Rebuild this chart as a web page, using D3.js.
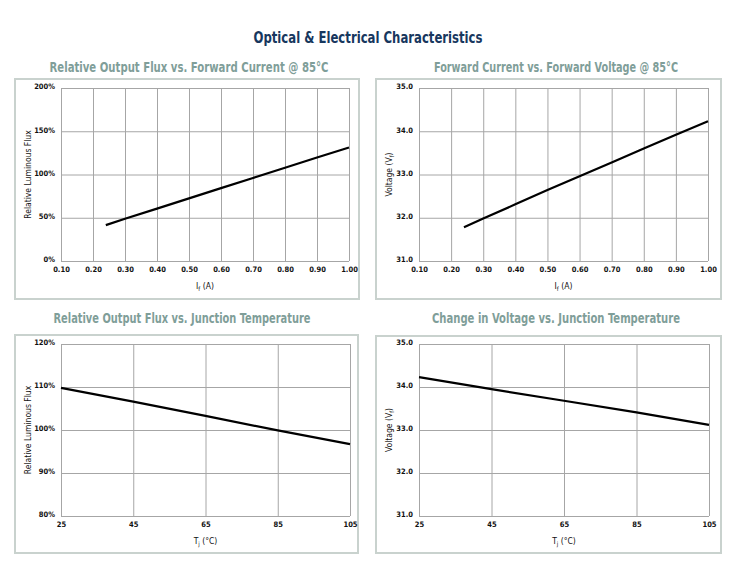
<!DOCTYPE html>
<meta charset="utf-8">
<style>
    body { margin: 0; background: white; }
    svg { display: block; background: white; }
    text { font-family: "DejaVu Sans Condensed", "Liberation Sans Narrow", sans-serif; }
    .grid line { stroke: #a6a6a6; stroke-width: 1; }
    .tick text { font-size: 7.5px; font-weight: bold; fill: #111; }
    .frame { fill: none; stroke: #c9d2ce; stroke-width: 2; }
    .ptitle { font-size: 13.5px; font-weight: bold; fill: #7f9e99; }
    .atitle { font-size: 8.5px; fill: #111; }
    .curve { fill: none; stroke: black; stroke-width: 2.2; }
</style>
<svg width="733" height="564"></svg>
<script src="https://d3js.org/d3.v7.min.js"></script>
<script>
    // chart 1: relative flux vs forward current
    var fluxCurrentX = [0.24, 0.30, 0.40, 0.50, 0.60, 0.70, 0.80, 0.90, 1.00];
    var fluxCurrentY = [41.5, 48.8, 60.5, 72.4, 84.3, 96.0, 107.8, 119.6, 131.3];
    // chart 2: forward voltage vs forward current
    var voltCurrentX = [0.24, 0.30, 0.40, 0.50, 0.60, 0.70, 0.80, 0.90, 1.00];
    var voltCurrentY = [31.78, 31.98, 32.31, 32.64, 32.96, 33.28, 33.60, 33.92, 34.23];
    // chart 3: relative flux vs junction temp
    var fluxTempX = [25, 45, 65, 85, 105];
    var fluxTempY = [109.8, 106.6, 103.3, 99.9, 96.7];
    // chart 4: voltage vs junction temp
    var voltTempX = [25, 45, 65, 85, 105];
    var voltTempY = [34.23, 33.95, 33.68, 33.41, 33.12];

    var currentTicks = [0.1, 0.2, 0.3, 0.4, 0.5, 0.6, 0.7, 0.8, 0.9, 1.0];
    var tempTicks = [25, 45, 65, 85, 105];
    var flux200Ticks = [0, 50, 100, 150, 200];
    var flux120Ticks = [80, 90, 100, 110, 120];
    var voltTicks = [31, 32, 33, 34, 35];

    var svg = d3.select("svg");

    svg.append("text")
        .attr("x", 368).attr("y", 43)
        .attr("text-anchor", "middle")
        .attr("textLength", 229).attr("lengthAdjust", "spacingAndGlyphs")
        .style("font-size", "16.5px").style("font-weight", "bold").style("fill", "#17375e")
        .text("Optical & Electrical Characteristics");

    var panels = [
        {title: "Relative Output Flux vs. Forward Current @ 85°C", tx: 189, ty: 72, tw: 279,
         frame: [15, 79, 344, 220], plot: [61, 88, 349, 261],
         xs: fluxCurrentX, ys: fluxCurrentY, xd: [0.1, 1.0], yd: [0, 200],
         xt: currentTicks, yt: flux200Ticks, xf: d3.format(".2f"), yf: function (d) { return d + "%"; },
         ylab: "Relative Luminous Flux", xlab: ["I", "f", " (A)"]},
        {title: "Forward Current vs. Forward Voltage @ 85°C", tx: 556, ty: 72, tw: 244,
         frame: [376, 79, 345, 220], plot: [419, 88, 708, 261],
         xs: voltCurrentX, ys: voltCurrentY, xd: [0.1, 1.0], yd: [31, 35],
         xt: currentTicks, yt: voltTicks, xf: d3.format(".2f"), yf: d3.format(".1f"),
         ylab: "Voltage (V", ylabSub: "f", xlab: ["I", "f", " (A)"]},
        {title: "Relative Output Flux vs. Junction Temperature", tx: 182, ty: 323, tw: 257,
         frame: [15, 335, 343, 218], plot: [61, 344, 350, 516],
         xs: fluxTempX, ys: fluxTempY, xd: [25, 105], yd: [80, 120],
         xt: tempTicks, yt: flux120Ticks, xf: d3.format("d"), yf: function (d) { return d + "%"; },
         ylab: "Relative Luminous Flux", xlab: ["T", "j", " (°C)"]},
        {title: "Change in Voltage vs. Junction Temperature", tx: 556, ty: 323, tw: 248,
         frame: [376, 336, 345, 217], plot: [419, 344, 709, 516],
         xs: voltTempX, ys: voltTempY, xd: [25, 105], yd: [31, 35],
         xt: tempTicks, yt: voltTicks, xf: d3.format("d"), yf: d3.format(".1f"),
         ylab: "Voltage (V", ylabSub: "f", xlab: ["T", "j", " (°C)"]}
    ];

    panels.forEach(function (p) {
        svg.append("text").attr("class", "ptitle")
            .attr("x", p.tx).attr("y", p.ty)
            .attr("text-anchor", "middle")
            .attr("textLength", p.tw).attr("lengthAdjust", "spacingAndGlyphs")
            .text(p.title);

        svg.append("rect").attr("class", "frame")
            .attr("x", p.frame[0]).attr("y", p.frame[1])
            .attr("width", p.frame[2]).attr("height", p.frame[3]);

        var x = d3.scaleLinear().domain(p.xd).range([p.plot[0], p.plot[2]]);
        var y = d3.scaleLinear().domain(p.yd).range([p.plot[3], p.plot[1]]);

        // vertical grid + x labels
        var gx = svg.append("g").attr("class", "grid")
            .attr("transform", "translate(0," + p.plot[3] + ")")
            .call(d3.axisBottom(x).tickValues(p.xt).tickFormat(p.xf)
                .tickSize(-(p.plot[3] - p.plot[1])).tickPadding(6));
        gx.select(".domain").remove();

        var gy = svg.append("g").attr("class", "grid")
            .attr("transform", "translate(" + p.plot[0] + ",0)")
            .call(d3.axisLeft(y).tickValues(p.yt).tickFormat(p.yf)
                .tickSize(-(p.plot[2] - p.plot[0])).tickPadding(6));
        gy.select(".domain").remove();
        gy.selectAll(".tick text").attr("dy", "0.1em");

        var line = d3.line()
            .x(function (d, i) { return x(p.xs[i]); })
            .y(function (d) { return y(d); });
        svg.append("path").attr("class", "curve").attr("d", line(p.ys));

        // axis titles
        var cx = (p.plot[0] + p.plot[2]) / 2;
        var xl = svg.append("text").attr("class", "atitle")
            .attr("x", cx).attr("y", p.plot[3] + 28)
            .attr("text-anchor", "middle");
        xl.append("tspan").text(p.xlab[0]);
        xl.append("tspan").attr("dy", 2).style("font-size", "6px").text(p.xlab[1]);
        xl.append("tspan").attr("dy", -2).text(p.xlab[2]);

        var cy = (p.plot[1] + p.plot[3]) / 2;
        var ylx = p.frame[0] + 16;
        var yl = svg.append("text").attr("class", "atitle")
            .attr("transform", "translate(" + ylx + "," + cy + ") rotate(-90)")
            .attr("text-anchor", "middle");
        yl.append("tspan").text(p.ylab);
        if (p.ylabSub) {
            yl.append("tspan").attr("dy", 2).style("font-size", "6px").text(p.ylabSub);
            yl.append("tspan").attr("dy", -2).text(")");
        }
    });
</script>
